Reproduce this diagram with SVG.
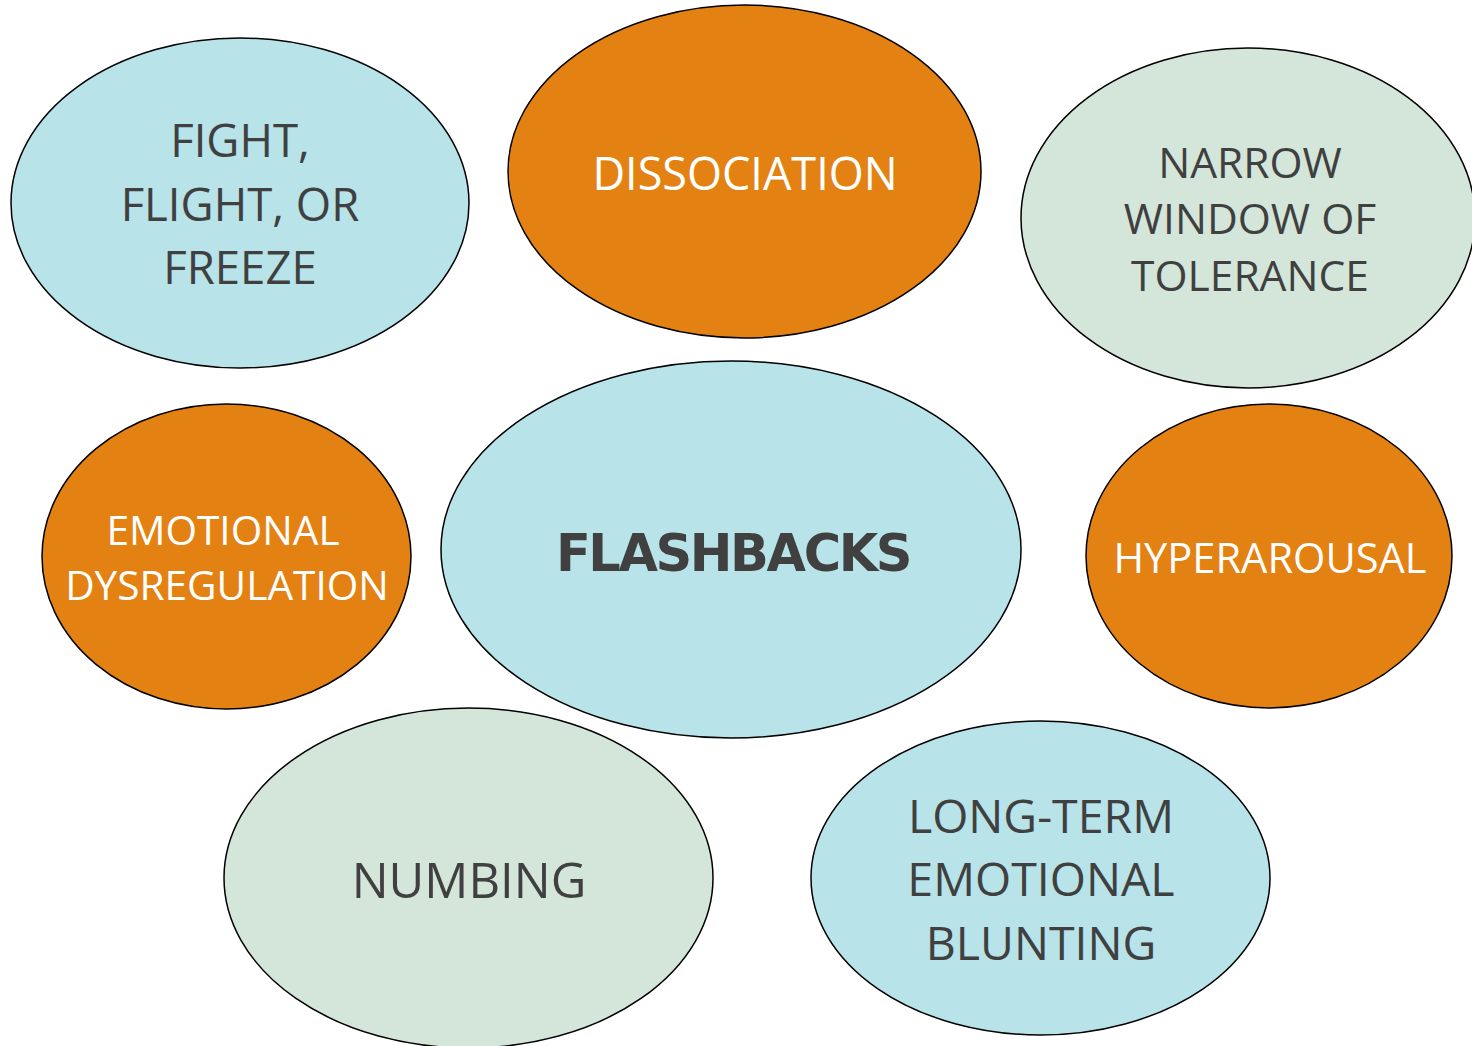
<svg xmlns="http://www.w3.org/2000/svg" width="1472" height="1046" viewBox="0 0 1472 1046">
  <style>
    .node { stroke: #000; stroke-width: 1.5; }
    .blue { fill: #B7E3E9; }
    .orange { fill: #E38213; }
    .green { fill: #D3E6D9; }
    .lbl { font-family: "Open Sans", "Noto Sans", sans-serif; text-anchor: middle; fill: #404040; }
    .lbl.light { fill: #FFFFFF; }
    .title { font-family: "DejaVu Sans", Verdana, sans-serif; font-weight: bold; text-anchor: middle; fill: #404040; }
  </style>
  <rect width="1472" height="1046" fill="#FFFFFF"/>
  <g id="fight-flight-freeze">
    <ellipse class="node blue" cx="240" cy="203" rx="229" ry="165"/>
    <text class="lbl" font-size="45.5" x="240" y="157">FIGHT,</text>
    <text class="lbl" font-size="45.5" x="240" y="221">FLIGHT, OR</text>
    <text class="lbl" font-size="45.5" x="240" y="284">FREEZE</text>
  </g>
  <g id="dissociation">
    <ellipse class="node orange" cx="744.5" cy="171.5" rx="236.5" ry="166.5"/>
    <text class="lbl light" font-size="45" x="745" y="190">DISSOCIATION</text>
  </g>
  <g id="narrow-window">
    <ellipse class="node green" cx="1248" cy="218" rx="227" ry="170"/>
    <text class="lbl" font-size="42.5" x="1250" y="178">NARROW</text>
    <text class="lbl" font-size="42.5" x="1250" y="234">WINDOW OF</text>
    <text class="lbl" font-size="42.5" x="1250" y="291">TOLERANCE</text>
  </g>
  <g id="emotional-dysregulation">
    <ellipse class="node orange" cx="226.5" cy="556.5" rx="184.5" ry="152.5"/>
    <text class="lbl light" font-size="40.6" x="223" y="545">EMOTIONAL</text>
    <text class="lbl light" font-size="40.6" x="227" y="600">DYSREGULATION</text>
  </g>
  <g id="flashbacks">
    <ellipse class="node blue" cx="731" cy="549.5" rx="290" ry="188.5"/>
    <text class="title" font-size="51" letter-spacing="-2.4" x="733" y="571">FLASHBACKS</text>
  </g>
  <g id="hyperarousal">
    <ellipse class="node orange" cx="1269" cy="556" rx="183" ry="152"/>
    <text class="lbl light" font-size="41.6" x="1270" y="573">HYPERAROUSAL</text>
  </g>
  <g id="numbing">
    <ellipse class="node green" cx="468.5" cy="878" rx="244.5" ry="170"/>
    <text class="lbl" font-size="49" x="469" y="898">NUMBING</text>
  </g>
  <g id="long-term-blunting">
    <ellipse class="node blue" cx="1040.5" cy="878" rx="229.5" ry="157"/>
    <text class="lbl" font-size="46.5" x="1041" y="833">LONG-TERM</text>
    <text class="lbl" font-size="46.5" x="1041" y="896">EMOTIONAL</text>
    <text class="lbl" font-size="46.5" x="1041" y="960">BLUNTING</text>
  </g>
  <g id="connectors"/>
</svg>
